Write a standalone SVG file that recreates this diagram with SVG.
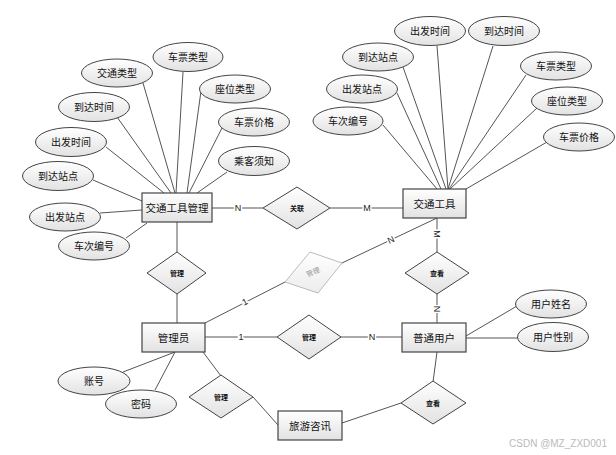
<svg xmlns="http://www.w3.org/2000/svg" width="616" height="455" viewBox="0 0 616 455">
<defs>
<linearGradient id="g" x1="0" y1="0" x2="0" y2="1">
<stop offset="0" stop-color="#ffffff"/>
<stop offset="1" stop-color="#e2e2e2"/>
</linearGradient>
<linearGradient id="gl" x1="0" y1="0" x2="0" y2="1">
<stop offset="0" stop-color="#ffffff"/>
<stop offset="1" stop-color="#ececec"/>
</linearGradient>
</defs>
<style>
.e{fill:url(#g);stroke:#444;stroke-width:1}
.r{fill:url(#g);stroke:#444;stroke-width:1.2}
.d{fill:url(#g);stroke:#444;stroke-width:1}
.t{font-family:"Liberation Sans","Noto Sans CJK SC",sans-serif;font-size:10px;fill:#111;text-anchor:middle;dominant-baseline:central}
.te{font-family:"Liberation Sans","Noto Sans CJK SC",sans-serif;font-size:10.5px;fill:#111;text-anchor:middle;dominant-baseline:central}
.td{font-family:"Liberation Sans","Noto Sans CJK SC",sans-serif;font-size:7px;font-weight:bold;fill:#111;text-anchor:middle;dominant-baseline:central}
.c line,.c polyline{stroke:#555;stroke-width:1;fill:none}
.lb{font-family:"Liberation Sans",sans-serif;font-size:9px;fill:#222;text-anchor:middle;dominant-baseline:central;stroke:#fff;stroke-width:3;paint-order:stroke}
</style>
<rect width="616" height="455" fill="#fff"/>
<g id="connectors" class="c">
<line x1="143" y1="83" x2="175" y2="193"/>
<line x1="183" y1="72" x2="176" y2="193"/>
<line x1="201" y1="91" x2="187" y2="193"/>
<line x1="117" y1="117" x2="171" y2="193"/>
<line x1="222" y1="128" x2="189" y2="193"/>
<line x1="106" y1="147" x2="164" y2="193"/>
<line x1="227" y1="172" x2="197" y2="193"/>
<line x1="93" y1="180" x2="142" y2="201"/>
<line x1="100" y1="213" x2="142" y2="210"/>
<line x1="126" y1="238" x2="147" y2="223"/>
<line x1="437" y1="46" x2="448" y2="189"/>
<line x1="493" y1="46" x2="448" y2="189"/>
<line x1="403" y1="67" x2="446" y2="189"/>
<line x1="397" y1="93" x2="441" y2="189"/>
<line x1="383" y1="125" x2="437" y2="189"/>
<line x1="526" y1="75" x2="449" y2="189"/>
<line x1="537" y1="108" x2="450" y2="189"/>
<line x1="547" y1="142" x2="466" y2="189"/>
<line x1="212" y1="208" x2="263" y2="208"/>
<line x1="330" y1="208" x2="403" y2="208"/>
<line x1="177" y1="222" x2="177" y2="252"/>
<line x1="177" y1="294" x2="177" y2="323"/>
<line x1="205" y1="323" x2="285" y2="282"/>
<line x1="342" y1="263" x2="437" y2="218"/>
<line x1="437" y1="218" x2="437" y2="252"/>
<line x1="437" y1="294" x2="437" y2="323"/>
<line x1="205" y1="337" x2="277" y2="337"/>
<line x1="341" y1="337" x2="402" y2="337"/>
<line x1="466" y1="336" x2="517" y2="306"/>
<line x1="466" y1="338" x2="518" y2="338"/>
<line x1="437" y1="352" x2="433" y2="382"/>
<line x1="401" y1="403" x2="342" y2="423"/>
<line x1="175" y1="352" x2="123" y2="372"/>
<line x1="175" y1="352" x2="155" y2="390"/>
<line x1="203" y1="352" x2="221" y2="376"/>
<line x1="253" y1="397" x2="278" y2="425"/>
<text class="lb" x="238" y="208">N</text>
<text class="lb" x="367" y="208">M</text>
<text class="lb" x="245" y="302" transform="rotate(-27 245 302)">1</text>
<text class="lb" x="391" y="240" transform="rotate(-25 391 240)">N</text>
<text class="lb" x="437" y="234" transform="rotate(90 437 234)">M</text>
<text class="lb" x="437" y="309" transform="rotate(90 437 309)">N</text>
<text class="lb" x="241" y="337">1</text>
<text class="lb" x="372" y="337">N</text>
</g>
<g id="e-jtgjgl"><rect class="r" x="142" y="193" width="70" height="29"/><text class="te" x="177" y="208">交通工具管理</text></g>
<g id="e-jtgj"><rect class="r" x="403" y="189" width="63" height="29"/><text class="te" x="434.5" y="204">交通工具</text></g>
<g id="e-gly"><rect class="r" x="142" y="323" width="63" height="29"/><text class="te" x="173.5" y="338">管理员</text></g>
<g id="e-ptyh"><rect class="r" x="402" y="323" width="64" height="29"/><text class="te" x="434" y="338">普通用户</text></g>
<g id="e-lyzx"><rect class="r" x="278" y="411" width="64" height="29"/><text class="te" x="310" y="426">旅游咨讯</text></g>
<g id="a1"><ellipse class="e" cx="188" cy="57" rx="35" ry="14.5"/><text class="t" x="188" y="57">车票类型</text></g>
<g id="a2"><ellipse class="e" cx="117" cy="73" rx="35.5" ry="14"/><text class="t" x="117" y="73">交通类型</text></g>
<g id="a3"><ellipse class="e" cx="235" cy="89" rx="35.5" ry="14"/><text class="t" x="235" y="89">座位类型</text></g>
<g id="a4"><ellipse class="e" cx="94" cy="107" rx="35.5" ry="14.5"/><text class="t" x="94" y="107">到达时间</text></g>
<g id="a5"><ellipse class="e" cx="254" cy="122" rx="35.5" ry="14"/><text class="t" x="254" y="122">车票价格</text></g>
<g id="a6"><ellipse class="e" cx="71" cy="142" rx="35.5" ry="14.5"/><text class="t" x="71" y="142">出发时间</text></g>
<g id="a7"><ellipse class="e" cx="254" cy="161" rx="35.5" ry="14.5"/><text class="t" x="254" y="161">乘客须知</text></g>
<g id="a8"><ellipse class="e" cx="58" cy="176" rx="35.5" ry="14.5"/><text class="t" x="58" y="176">到达站点</text></g>
<g id="a9"><ellipse class="e" cx="65" cy="217" rx="35.5" ry="14"/><text class="t" x="65" y="217">出发站点</text></g>
<g id="a10"><ellipse class="e" cx="94" cy="246" rx="35.5" ry="14"/><text class="t" x="94" y="246">车次编号</text></g>
<g id="b1"><ellipse class="e" cx="430" cy="31" rx="35.5" ry="14.5"/><text class="t" x="430" y="31">出发时间</text></g>
<g id="b2"><ellipse class="e" cx="504" cy="31" rx="35.5" ry="14.5"/><text class="t" x="504" y="31">到达时间</text></g>
<g id="b3"><ellipse class="e" cx="378" cy="57" rx="35.5" ry="14"/><text class="t" x="378" y="57">到达站点</text></g>
<g id="b4"><ellipse class="e" cx="556" cy="66" rx="35.5" ry="14"/><text class="t" x="556" y="66">车票类型</text></g>
<g id="b5"><ellipse class="e" cx="362" cy="89" rx="35.5" ry="14"/><text class="t" x="362" y="89">出发站点</text></g>
<g id="b6"><ellipse class="e" cx="567" cy="101" rx="35.5" ry="14"/><text class="t" x="567" y="101">座位类型</text></g>
<g id="b7"><ellipse class="e" cx="348" cy="121" rx="35" ry="14"/><text class="t" x="348" y="121">车次编号</text></g>
<g id="b8"><ellipse class="e" cx="579" cy="137" rx="35.5" ry="14"/><text class="t" x="579" y="137">车票价格</text></g>
<g id="c1"><ellipse class="e" cx="551" cy="304" rx="35.5" ry="14"/><text class="t" x="551" y="304">用户姓名</text></g>
<g id="c2"><ellipse class="e" cx="553" cy="337" rx="35.5" ry="14.5"/><text class="t" x="553" y="337">用户性别</text></g>
<g id="c3"><ellipse class="e" cx="94" cy="381" rx="36" ry="14"/><text class="t" x="94" y="381">账号</text></g>
<g id="c4"><ellipse class="e" cx="141" cy="404" rx="35.5" ry="14"/><text class="t" x="141" y="404">密码</text></g>
<g id="r-gl"><polygon class="d" points="263,208 297,187 330,208 297,229"/><text class="td" x="297" y="208">关联</text></g>
<g id="r-gl1"><polygon class="d" points="147,273 177,252 206,273 177,294"/><text class="td" x="177" y="273">管理</text></g>
<g id="r-gl2"><polygon points="285,282 310,252 342,263 318,293" fill="url(#gl)" stroke="#bbb" stroke-width="1"/><text class="td" x="313" y="272" fill="#999" style="fill:#999;font-weight:normal" transform="rotate(-22 313 272)">管理</text></g>
<g id="r-ck1"><polygon class="d" points="405,273 437,252 469,273 437,294"/><text class="td" x="437" y="273">查看</text></g>
<g id="r-gl3"><polygon class="d" points="277,337 309,315 341,337 309,359"/><text class="td" x="309" y="337">管理</text></g>
<g id="r-ck2"><polygon class="d" points="401,403 433,381 466,403 433,424"/><text class="td" x="433" y="403">查看</text></g>
<g id="r-gl4"><polygon class="d" points="189,397 221,375 253,397 221,418"/><text class="td" x="221" y="397">管理</text></g>
<text x="558" y="443" style="font-family:'Liberation Sans',sans-serif;font-size:10px;fill:#bbb;text-anchor:middle;dominant-baseline:central">CSDN @MZ_ZXD001</text>
</svg>
